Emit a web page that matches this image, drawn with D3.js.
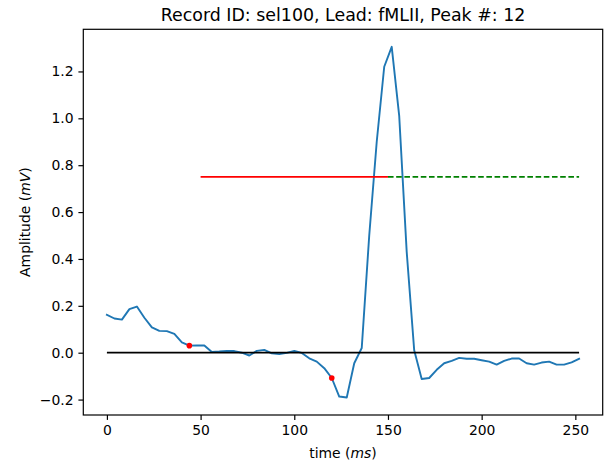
<!DOCTYPE html>
<html>
<head>
<meta charset="utf-8">
<script src="https://cdn.jsdelivr.net/npm/d3@7"></script>
<style>
  html, body { margin: 0; padding: 0; background: #fff; }
  svg { display: block; }
  text { font-family: "DejaVu Sans", sans-serif; fill: #000; }
</style>
</head>
<body>
<div id="chart"></div>
<script>
// ---- data ----
const titleText = "Record ID: sel100, Lead: fMLII, Peak #: 12";
const timeMs = [0,4,8,12,16,20,24,28,32,36,40,44,48,52,56,60,64,68,72,76,80,84,88,92,96,100,
  104,108,112,116,120,124,128,132,136,140,144,148,152,156,160,164,168,172,176,180,184,188,192,196,
  200,204,208,212,216,220,224,228,232,236,240,244,248,252];
const amplitude = [0.162,0.146,0.141,0.186,0.197,0.149,0.108,0.093,0.092,0.080,0.044,0.030,0.031,0.031,
  0.003,0.005,0.008,0.007,0.000,-0.012,0.008,0.012,-0.003,-0.006,-0.001,0.008,-0.001,-0.024,-0.038,-0.066,
  -0.108,-0.187,-0.191,-0.045,0.020,0.50,0.90,1.22,1.305,1.01,0.43,0.01,-0.112,-0.108,-0.073,-0.045,-0.035,
  -0.022,-0.026,-0.026,-0.032,-0.038,-0.051,-0.035,-0.025,-0.025,-0.045,-0.051,-0.042,-0.038,-0.051,-0.051,
  -0.041,-0.026];
const baselineSeg = {x: [0, 252], y: 0};
const redSeg = {x: [50, 150], y: 0.75};
const greenSeg = {x: [150, 252], y: 0.75};
const markerTimes = [44, 120];
const markerValues = [0.030, -0.108];
const xTicks = [0, 50, 100, 150, 200, 250];
const yTicks = [-0.2, 0.0, 0.2, 0.4, 0.6, 0.8, 1.0, 1.2];

// ---- layout ----
const W = 606, H = 465;
const L = 83.3, R = 602.7, T = 29.3, B = 415;

const svg = d3.select("#chart").append("svg").attr("width", W).attr("height", H);

const xmin = d3.min(timeMs), xmax = d3.max(timeMs);
const ymin = d3.min(amplitude), ymax = d3.max(amplitude);
const xm = (xmax - xmin) * 0.05, ym = (ymax - ymin) * 0.05;
const x = d3.scaleLinear().domain([xmin - xm, xmax + xm]).range([L, R]);
const y = d3.scaleLinear().domain([ymin - ym, ymax + ym]).range([B, T]);

const pts = timeMs.map((t, i) => [t, amplitude[i]]);
const line = d3.line().x(d => x(d[0])).y(d => y(d[1]));

const plot = svg.append("g");
plot.append("path").datum(pts).attr("d", line)
  .attr("fill", "none").attr("stroke", "#1f77b4").attr("stroke-width", 1.9)
  .attr("stroke-linejoin", "round").attr("stroke-linecap", "square");

function seg(s, color, dash) {
  const p = plot.append("line")
    .attr("x1", x(s.x[0])).attr("x2", x(s.x[1]))
    .attr("y1", y(s.y)).attr("y2", y(s.y))
    .attr("stroke", color).attr("stroke-width", 1.8);
  if (dash) p.attr("stroke-dasharray", dash);
  return p;
}
seg(baselineSeg, "#000000");
seg(redSeg, "#ff0000");
seg(greenSeg, "#008000", "5.6,2.6");

plot.selectAll("circle.m").data(markerTimes).enter().append("circle")
  .attr("class", "m")
  .attr("cx", (d) => x(d)).attr("cy", (d, i) => y(markerValues[i]))
  .attr("r", 2.8).attr("fill", "#ff0000");

// ---- axes ----
const fmtY = d => d3.format(".1f")(d).replace("-", "\u2212");
const xAxis = d3.axisBottom(x).tickValues(xTicks).tickFormat(d3.format("d"))
  .tickSizeInner(4.9).tickSizeOuter(0).tickPadding(4.9);
const yAxis = d3.axisLeft(y).tickValues(yTicks).tickFormat(fmtY)
  .tickSizeInner(4.9).tickSizeOuter(0).tickPadding(4.9);

const gx = svg.append("g").attr("transform", `translate(0,${B})`).call(xAxis);
const gy = svg.append("g").attr("transform", `translate(${L},0)`).call(yAxis);
[gx, gy].forEach(g => {
  g.select(".domain").remove();
  g.selectAll(".tick line").attr("stroke", "#000").attr("stroke-width", 1.2);
  g.selectAll(".tick text").attr("font-size", "13.9px").attr("font-family", "DejaVu Sans").attr("fill", "#000");
});

// frame
svg.append("rect").attr("x", L).attr("y", T).attr("width", R - L).attr("height", B - T)
  .attr("fill", "none").attr("stroke", "#000").attr("stroke-width", 1.2);

// title
svg.append("text").attr("x", (L + R) / 2).attr("y", 21)
  .attr("text-anchor", "middle").attr("font-size", "17.4px").text(titleText);

// x label
const xl = svg.append("text").attr("x", (L + R) / 2).attr("y", 458)
  .attr("text-anchor", "middle").attr("font-size", "13.9px");
xl.append("tspan").text("time (");
xl.append("tspan").attr("font-style", "italic").text("ms");
xl.append("tspan").text(")");

// y label
const yl = svg.append("text")
  .attr("transform", `translate(30,${(T + B) / 2}) rotate(-90)`)
  .attr("text-anchor", "middle").attr("font-size", "13.9px");
yl.append("tspan").text("Amplitude (");
yl.append("tspan").attr("font-style", "italic").text("mV");
yl.append("tspan").text(")");
</script>
</body>
</html>
